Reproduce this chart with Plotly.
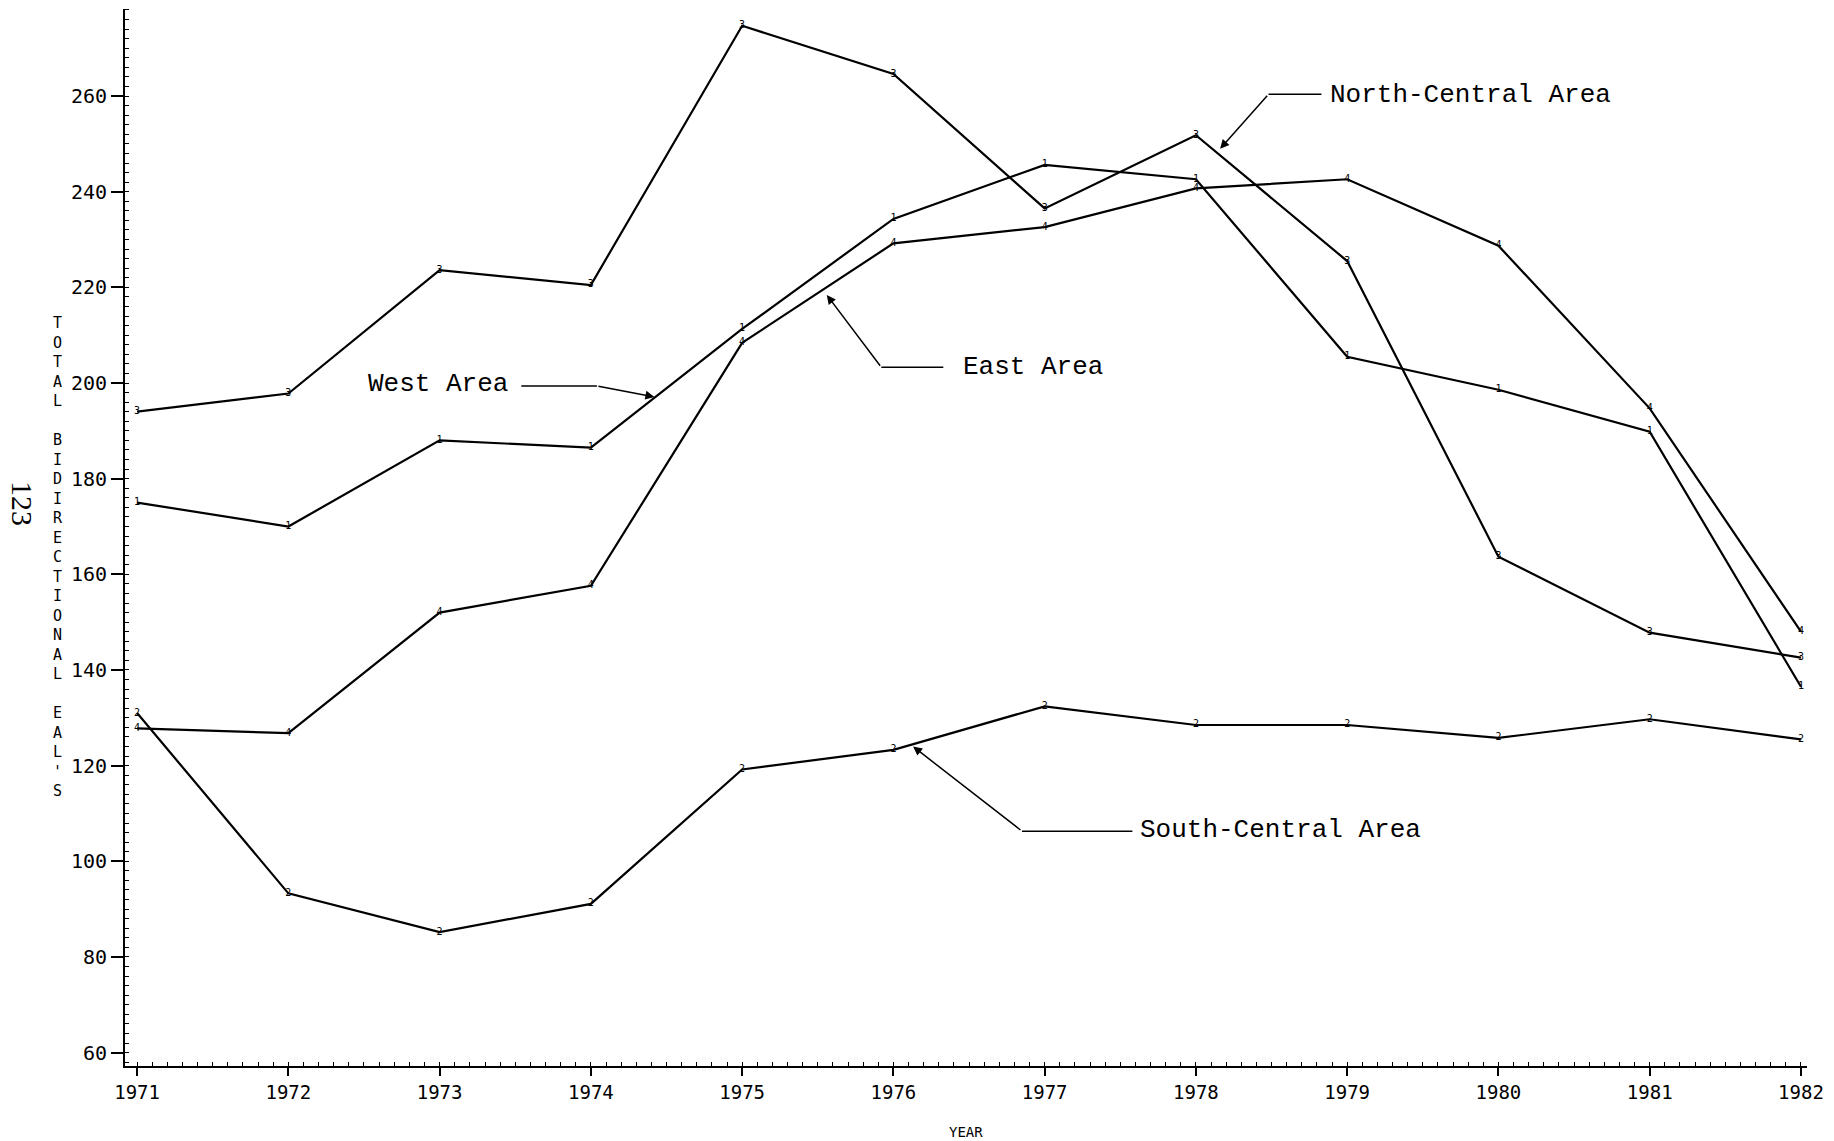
import plotly.graph_objects as go

years = [1971, 1972, 1973, 1974, 1975, 1976, 1977, 1978, 1979, 1980, 1981, 1982]

west = [175, 170, 188, 186.5, 211.3, 234.3, 245.6, 242.6, 205.5, 198.6, 189.8, 136.5]
south_central = [131, 93.3, 85.2, 91.1, 119.2, 123.3, 132.4, 128.5, 128.5, 125.8, 129.7, 125.5]
north_central = [194, 197.8, 223.6, 220.5, 274.7, 264.6, 236.5, 251.8, 225.5, 163.7, 147.8, 142.6]
east = [127.8, 126.8, 152, 157.6, 208.4, 229.2, 232.6, 240.7, 242.6, 228.7, 194.7, 148]

series_names = ["West Area", "South-Central Area", "North-Central Area", "East Area"]
series_values = [west, south_central, north_central, east]
series_symbols = ["1", "2", "3", "4"]

y_ticks = [60, 80, 100, 120, 140, 160, 180, 200, 220, 240, 260]

# callout labels: text anchor, elbow, arrow head
label_text = ["North-Central Area", "West Area", "East Area", "South-Central Area"]
label_x = [1978.87, 1972.51, 1976.45, 1977.62]
label_y = [260.2, 199.8, 203.4, 106.6]
line_start_x = [1978.83, 1973.54, 1976.33, 1977.58]
elbow_x = [1978.48, 1974.04, 1975.92, 1976.85]
elbow_y = [260.4, 199.4, 203.3, 106.3]
head_x = [1978.16, 1974.42, 1975.56, 1976.13]
head_y = [249.0, 197.1, 218.4, 124.0]

fig = go.Figure()
for name, vals, sym in zip(series_names, series_values, series_symbols):
    fig.add_trace(go.Scatter(
        x=years, y=vals, name=name, mode="lines+text",
        text=[sym] * len(years), textposition="middle center",
        textfont=dict(family="DejaVu Sans Mono", size=10, color="black"),
        line=dict(color="black", width=2.2), showlegend=False,
    ))

annotations = []
shapes = []
for t, lx, ly, sx, ex, ey, hx, hy in zip(label_text, label_x, label_y, line_start_x,
                                         elbow_x, elbow_y, head_x, head_y):
    annotations.append(dict(x=lx, y=ly, xref="x", yref="y", text=t, showarrow=False,
                            xanchor="left", yanchor="middle",
                            font=dict(family="Liberation Mono", size=26, color="black")))
    annotations.append(dict(x=hx, y=hy, ax=ex, ay=ey, xref="x", yref="y",
                            axref="x", ayref="y", text="", showarrow=True,
                            arrowhead=2, arrowsize=1.2, arrowwidth=1.5,
                            arrowcolor="black", standoff=0))
    shapes.append(dict(type="line", xref="x", yref="y", x0=ex, y0=ey, x1=sx, y1=ey,
                       line=dict(color="black", width=1.5)))

title_letters = "TOTAL BIDIRECTIONAL EAL'S"
annotations.append(dict(
    x=0, y=0.4816, xref="paper", yref="paper", xshift=-67,
    text="<br>".join(c if c != " " else "&nbsp;" for c in title_letters),
    showarrow=False, xanchor="center", yanchor="middle", align="center",
    font=dict(family="DejaVu Sans Mono", size=15, color="black")))
annotations.append(dict(
    x=0, y=0.5326, xref="paper", yref="paper", xshift=-102,
    text="123", textangle=90, showarrow=False, xanchor="center", yanchor="middle",
    font=dict(family="Liberation Serif", size=30, color="black")))
annotations.append(dict(
    x=0.5, y=0, xref="paper", yref="paper", yshift=-66,
    text="YEAR", showarrow=False, xanchor="center", yanchor="middle",
    font=dict(family="DejaVu Sans Mono", size=14, color="black")))

fig.update_layout(
    width=1834, height=1141,
    margin=dict(l=125, r=27, t=9, b=75),
    paper_bgcolor="white", plot_bgcolor="white",
    annotations=annotations, shapes=shapes,
    xaxis=dict(range=[1970.92, 1982.04], tickvals=years, ticktext=[str(y) for y in years],
               showgrid=False, zeroline=False, showline=True, linecolor="black", linewidth=2,
               ticks="outside", ticklen=8, tickwidth=1.5, tickcolor="black",
               tickfont=dict(family="DejaVu Sans Mono", size=19, color="black"),
               minor=dict(ticks="inside", dtick=0.1, ticklen=4, tickcolor="black", tickwidth=1)),
    yaxis=dict(range=[57.2, 278.2], tickvals=y_ticks, ticktext=[str(v) for v in y_ticks],
               showgrid=False, zeroline=False, showline=True, linecolor="black", linewidth=2,
               ticks="outside", ticklen=12, tickwidth=1.5, tickcolor="black",
               tickfont=dict(family="DejaVu Sans Mono", size=20, color="black"),
               minor=dict(ticks="inside", dtick=2, ticklen=4, tickcolor="black", tickwidth=1)),
)

fig.write_html("out.html", config={"displayModeBar": False},
               post_script="document.body.style.margin='0';document.body.style.overflow='hidden';")
